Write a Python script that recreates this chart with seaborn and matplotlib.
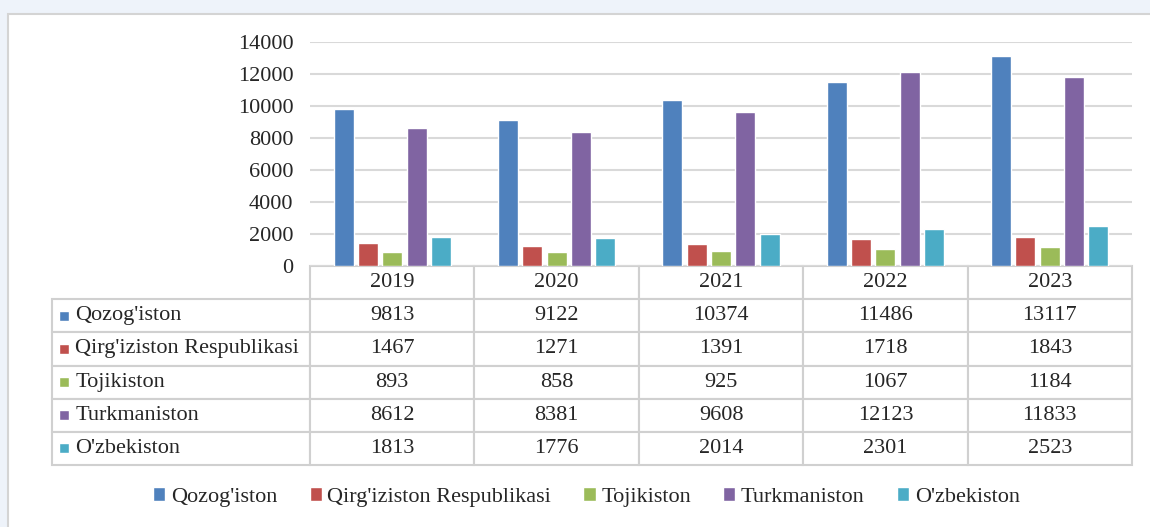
import numpy as np
import pandas as pd
import seaborn as sns
import matplotlib.pyplot as plt
from matplotlib.patches import Rectangle

years = ['2019', '2020', '2021', '2022', '2023']
countries = ["Qozog'iston", "Qirg'iziston Respublikasi", "Tojikiston", "Turkmaniston", "O'zbekiston"]
qozogiston = [9813, 9122, 10374, 11486, 13117]
qirgiziston = [1467, 1271, 1391, 1718, 1843]
tojikiston = [893, 858, 925, 1067, 1184]
turkmaniston = [8612, 8381, 9608, 12123, 11833]
ozbekiston = [1813, 1776, 2014, 2301, 2523]
colors = ['#4f81bd', '#c0504d', '#9bbb59', '#8064a2', '#4bacc6']

series = [qozogiston, qirgiziston, tojikiston, turkmaniston, ozbekiston]
rows = []
for c, vals in zip(countries, series):
    for y, v in zip(years, vals):
        rows.append({'year': y, 'country': c, 'value': v})
df = pd.DataFrame(rows)

sns.set_style('white')
plt.rcParams['font.family'] = ['Liberation Serif', 'DejaVu Serif']

fig = plt.figure(figsize=(11.5, 5.27), dpi=100)
fig.patch.set_facecolor('#eef3fa')
# white panel with a thin grey frame
fig.patches.append(Rectangle((8 / 1150, -0.01), 1 - 8 / 1150 + 0.01, 1 - 14 / 527 + 0.01,
                             transform=fig.transFigure, facecolor='white',
                             edgecolor='#d4d4d4', linewidth=1.5, zorder=-5))

ax = fig.add_axes([310 / 1150, 1 - 266 / 527, 822 / 1150, 224 / 527])
ax.patch.set_alpha(0)
sns.barplot(data=df, x='year', y='value', hue='country', palette=colors,
            width=0.74, gap=0.18, ax=ax, legend=False, saturation=1)
ax.set_ylim(0, 14000)
ax.set_yticks(np.arange(0, 14001, 2000))
ax.set_xlim(-0.5, 4.5)
ax.yaxis.grid(True, color='#d9d9d9', linewidth=1.5)
ax.set_axisbelow(True)
for s in ax.spines.values():
    s.set_visible(False)
ax.set_xlabel('')
ax.set_ylabel('')
ax.set_xticks([])
ax.tick_params(axis='y', length=0, pad=12, labelsize=16)

# data table under the bars
cell_text = [[c] + [str(v) for v in vals] for c, vals in zip(countries, series)]
tab_h = (465 - 266) / 224
tab = ax.table(cellText=cell_text, colLabels=[''] + years, cellLoc='center',
               colWidths=[258 / 1080] + [164.4 / 1080] * 5,
               bbox=[(52 - 310) / 822, -tab_h, 1080 / 822, tab_h])
tab.auto_set_font_size(False)
tab.set_fontsize(16)
for (r, c), cell in tab.get_celld().items():
    cell.set_edgecolor('#d0d0d0')
    cell.set_linewidth(1.5)
    if r == 0 and c == 0:
        cell.visible_edges = ''
    if c == 0 and r > 0:
        cell._loc = 'left'
        cell.PAD = 0.09
        cell.get_text().set_horizontalalignment('left')

# small colour keys in the row-label cells
row_h = tab_h / 6
sq_w, sq_h = 10 / 822, 10 / 224
for i, col in enumerate(colors):
    yc = -row_h * (i + 1.5)
    ax.add_patch(Rectangle(((59 - 310) / 822, yc - sq_h / 2), sq_w, sq_h,
                           transform=ax.transAxes, facecolor=col, clip_on=False))

handles = [Rectangle((0, 0), 1, 1, facecolor=c) for c in colors]
fig.legend(handles, countries, loc='center', bbox_to_anchor=(0.51, 1 - 497 / 527),
           ncol=5, frameon=False, fontsize=16, handlelength=0.55, handleheight=0.55,
           handletextpad=0.25, columnspacing=1.45)

fig.savefig('out.png', dpi=100)
